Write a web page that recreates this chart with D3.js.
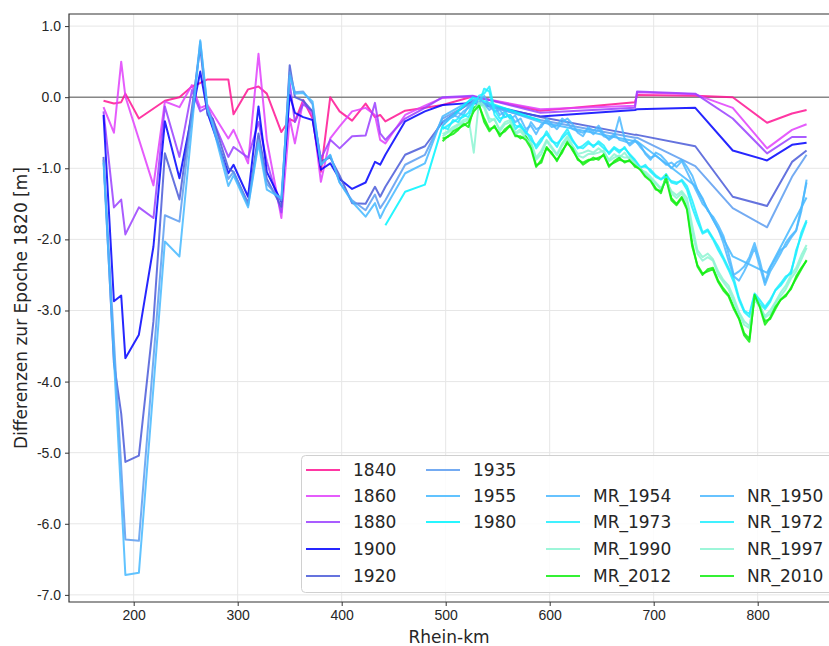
<!DOCTYPE html>
<html>
<head>
<meta charset="utf-8">
<script src="https://cdn.jsdelivr.net/npm/d3@7"></script>
<style>
  body { margin: 0; background: #fff; }
  svg { display: block; font-family: 'DejaVu Sans', sans-serif; }
  .grid line { stroke: #e6e6e6; stroke-width: 1; }
  .axis text { font-size: 14px; fill: #262626; }
  .axis line { stroke: #333; }
  .label { font-size: 17px; fill: #262626; }
  .legend text { font-size: 17px; fill: #262626; }
  .series { fill: none; stroke-width: 2; stroke-opacity: 0.85; stroke-linejoin: round; }
</style>
</head>
<body>
<script>
// survey stations (Rhein-km) of the historic epochs
const STATION_KM = [171, 181, 188, 192, 205, 219, 230, 244, 256, 264, 271, 276, 291, 296, 310, 320, 328, 342, 350, 355,
    363, 372, 380, 389, 398, 410, 423, 432, 437, 442, 461, 480, 497, 526, 591, 682, 684, 740, 776, 809, 833, 847]

const E1840 = [-0.05, -0.09, -0.07, 0.05, -0.30, null, -0.05, 0.00, 0.15, 0.20, 0.25, null, 0.25, -0.24, 0.11, 0.15, 0.05, -0.49, -0.31, -0.34,
    -0.04, -0.30, -1.05, 0.00, -0.20, -0.33, -0.09, -0.28, -0.25, -0.34, -0.19, -0.15, -0.11, 0.01, -0.19, -0.07, 0.03, 0.02, 0.00, -0.36, -0.23, -0.18]
const E1860 = [-0.14, -0.50, 0.50, 0.01, null, -1.24, -0.06, -0.14, 0.17, -0.15, -0.11, null, -0.58, -0.46, -0.93, 0.61, -0.60, -1.70, -0.30, -0.65,
    -0.05, -0.25, -1.19, -0.58, -0.41, -0.20, -0.15, -0.25, -0.60, -0.65, -0.25, -0.12, -0.01, 0.01, -0.17, -0.12, 0.07, 0.04, -0.15, -0.72, -0.46, -0.38]
const E1880 = [-0.20, -1.55, -1.44, -1.93, -1.55, -1.70, -0.13, -0.84, 0.10, -0.20, -0.14, null, -0.84, -0.70, -0.85, -0.35, -0.90, -1.62, 0.20, -0.35,
    -0.10, -0.20, -0.86, -0.60, -0.72, -0.55, -0.54, -0.08, -0.51, -0.60, -0.30, -0.15, 0.00, 0.02, -0.22, -0.15, 0.08, 0.05, -0.30, -0.79, -0.56, -0.56]
const E1900 = [-0.25, -2.87, -2.79, -3.67, -3.34, -2.10, -0.34, -1.14, null, 0.36, -0.22, null, -1.07, -0.95, -1.40, -0.13, -1.05, -1.47, 0.03, -0.22,
    -0.28, -0.32, -1.02, -0.93, -1.15, -1.29, -1.20, -0.91, -0.95, -0.81, -0.34, -0.20, -0.11, -0.08, -0.27, -0.18, -0.17, -0.15, -0.75, -0.89, -0.67, -0.64]
const E1920 = [-0.84, -3.74, -4.45, -5.13, -5.04, -3.15, -0.79, -1.44, null, 0.70, -0.25, -0.30, -1.00, -1.05, -1.49, -0.51, -1.15, -1.54, 0.45, 0.00,
    -0.05, -0.20, -0.90, -0.85, -1.10, -1.49, -1.50, -1.26, -1.40, -1.26, -0.81, -0.69, -0.35, -0.05, -0.28, -0.53, -0.53, -0.69, -1.40, -1.53, -0.91, -0.75]
const E1935 = [-0.88, null, null, -6.22, -6.24, null, -1.66, -1.75, null, 0.78, -0.18, -0.35, -1.15, -1.05, -1.52, -0.60, -1.22, -1.45, 0.35, 0.07,
    0.08, -0.10, -0.95, -0.82, -1.20, -1.45, -1.59, -1.37, -1.56, -1.45, -0.95, -0.81, -0.30, -0.07, -0.32, -0.57, -0.57, -0.97, -1.56, -1.83, -1.12, -0.81]
const E1955 = [-0.92, null, null, -6.72, -6.69, null, -2.03, -2.24, null, 0.80, -0.15, -0.40, -1.25, -1.10, -1.55, -0.65, -1.30, -1.42, 0.30, 0.05,
    0.06, -0.06, -0.95, -0.81, -1.20, -1.47, -1.68, -1.49, -1.70, -1.55, -1.07, -0.93, -0.27, -0.03, -0.35, -0.62, -0.62, -1.25, -2.24, -2.47, null, -1.41]
const E1980 = [null, null, null, null, null, null, null, null, null, null, null, null, null, null, null, null, null, null, null, null,
    null, null, null, null, null, null, null, null, null, -1.80, -1.33, -1.23, -0.40, 0.00, -0.33, null, null, null, null, null, null, null]

// dense profiles (Mittel- und Niedrigwasser)
const DENSE_KM = [497, 502, 507, 512, 517, 522, 527, 532, 537, 542, 547, 552, 557, 562, 567, 572, 577, 582, 587, 592,
    597, 602, 607, 612, 617, 622, 627, 632, 637, 642, 647, 652, 657, 662, 667, 672, 677, 682, 687, 692,
    697, 702, 707, 712, 717, 722, 727, 732, 737, 742, 747, 752, 757, 762, 767, 772, 777, 782, 787, 792,
    797, 802, 807, 812, 817, 822, 827, 832, 837, 842, 847]

const MR_1954 = [-0.35, -0.30, -0.28, -0.22, -0.25, -0.12, -0.08, -0.02, -0.10, -0.18, -0.12, -0.25, -0.20, -0.30, -0.26, -0.40, -0.52, -0.35, -0.45, -0.42,
    -0.30, -0.38, -0.45, -0.35, -0.30, -0.38, -0.50, -0.55, -0.42, -0.48, -0.40, -0.52, -0.60, -0.55, -0.28, -0.58, -0.68, -0.62, -0.67, -0.80,
    -0.88, -0.78, -0.82, -0.90, -1.00, -0.92, -0.88, -0.98, -1.10, -1.30, -1.42, -1.60, -1.68, -1.80, -1.95, -2.20, -2.50, -2.45, -2.38, -2.25,
    -2.05, -2.30, -2.60, -2.40, -2.28, -2.15, -2.10, -1.98, -1.88, -1.60, -1.16]
const MR_1973 = [-0.45, -0.40, -0.35, -0.30, -0.28, -0.22, -0.05, -0.10, 0.12, 0.08, -0.25, -0.35, -0.22, -0.30, -0.45, -0.38, -0.50, -0.55, -0.72, -0.62,
    -0.48, -0.60, -0.70, -0.55, -0.45, -0.60, -0.72, -0.68, -0.62, -0.70, -0.62, -0.68, -0.80, -0.72, -0.78, -0.70, -0.82, -0.90, -1.00, -0.95,
    -1.05, -1.12, -1.16, -1.08, -1.20, -1.22, -1.16, -1.25, -1.45, -1.68, -1.90, -1.86, -1.98, -2.10, -2.25, -2.40, -2.55, -2.82, -3.00, -3.05,
    -2.76, -2.85, -2.95, -2.85, -2.72, -2.65, -2.55, -2.45, -2.20, -1.90, -1.73]
const MR_1990 = [-0.52, -0.48, -0.42, -0.38, -0.32, -0.30, -0.78, -0.05, -0.12, -0.30, -0.32, -0.45, -0.35, -0.32, -0.50, -0.45, -0.55, -0.62, -0.85, -0.75,
    -0.60, -0.70, -0.80, -0.65, -0.55, -0.68, -0.80, -0.78, -0.75, -0.78, -0.72, -0.78, -0.88, -0.80, -0.85, -0.78, -0.88, -0.92, -1.02, -1.05,
    -1.12, -1.20, -1.28, -1.18, -1.32, -1.38, -1.32, -1.42, -1.80, -2.15, -2.25, -2.20, -2.28, -2.45, -2.57, -2.65, -2.82, -3.02, -3.15, -3.22,
    -2.85, -2.95, -3.08, -3.00, -2.88, -2.75, -2.65, -2.50, -2.40, -2.22, -2.08]
const MR_2012 = [-0.62, -0.55, -0.52, -0.46, -0.37, -0.42, -0.15, -0.10, -0.35, -0.48, -0.40, -0.55, -0.45, -0.39, -0.52, -0.58, -0.55, -0.68, -0.96, -0.92,
    -0.70, -0.80, -0.88, -0.78, -0.62, -0.75, -0.86, -0.95, -0.90, -0.85, -0.88, -0.80, -0.98, -0.90, -0.85, -0.92, -0.88, -0.98, -1.00, -1.10,
    -1.16, -1.28, -1.35, -1.10, -1.42, -1.50, -1.40, -1.55, -2.05, -2.38, -2.50, -2.42, -2.40, -2.58, -2.69, -2.78, -2.95, -3.10, -3.32, -3.40,
    -2.80, -2.92, -3.15, -3.12, -2.98, -2.85, -2.80, -2.68, -2.55, -2.42, -2.29]

const NR_1950 = [-0.40, -0.32, -0.25, -0.28, -0.20, -0.15, -0.05, -0.08, 0.02, -0.12, -0.20, -0.18, -0.28, -0.25, -0.35, -0.30, -0.45, -0.40, -0.52, -0.38,
    -0.35, -0.42, -0.40, -0.30, -0.36, -0.45, -0.48, -0.50, -0.45, -0.52, -0.45, -0.55, -0.58, -0.52, -0.60, -0.62, -0.65, -0.60, -0.70, -0.78,
    -0.85, -0.82, -0.88, -0.95, -0.92, -0.98, -0.90, -1.05, -1.20, -1.35, -1.50, -1.58, -1.72, -1.85, -2.05, -2.30, -2.52, -2.58, -2.45, -2.30,
    -2.12, -2.38, -2.64, -2.45, -2.33, -2.20, -2.05, -1.95, -1.87, -1.55, -1.20]
const NR_1972 = [-0.42, -0.45, -0.32, -0.35, -0.25, -0.28, -0.10, 0.02, 0.05, 0.15, -0.18, -0.30, -0.28, -0.25, -0.40, -0.42, -0.48, -0.60, -0.68, -0.58,
    -0.52, -0.62, -0.65, -0.58, -0.50, -0.62, -0.70, -0.72, -0.65, -0.68, -0.65, -0.72, -0.78, -0.70, -0.75, -0.72, -0.80, -0.88, -0.98, -0.98,
    -1.02, -1.10, -1.15, -1.12, -1.18, -1.20, -1.18, -1.30, -1.55, -1.75, -1.92, -1.88, -2.00, -2.15, -2.28, -2.43, -2.60, -2.85, -3.02, -3.09,
    -2.78, -2.90, -2.98, -2.88, -2.71, -2.62, -2.52, -2.48, -2.15, -1.95, -1.75]
const NR_1997 = [-0.55, -0.50, -0.45, -0.40, -0.35, -0.32, -0.20, -0.08, -0.15, -0.35, -0.30, -0.48, -0.38, -0.35, -0.52, -0.48, -0.58, -0.65, -0.88, -0.80,
    -0.62, -0.72, -0.82, -0.68, -0.58, -0.70, -0.82, -0.85, -0.80, -0.80, -0.78, -0.75, -0.90, -0.85, -0.82, -0.85, -0.85, -0.95, -1.00, -1.08,
    -1.15, -1.22, -1.30, -1.15, -1.35, -1.42, -1.35, -1.48, -1.90, -2.20, -2.30, -2.25, -2.30, -2.50, -2.60, -2.70, -2.88, -3.05, -3.20, -3.25,
    -2.82, -2.92, -3.10, -3.05, -2.90, -2.80, -2.70, -2.55, -2.45, -2.28, -2.12]
const NR_2010 = [-0.58, -0.56, -0.48, -0.44, -0.40, -0.35, -0.20, -0.12, -0.30, -0.45, -0.42, -0.52, -0.48, -0.40, -0.55, -0.55, -0.60, -0.72, -0.98, -0.88,
    -0.72, -0.78, -0.90, -0.75, -0.65, -0.72, -0.88, -0.92, -0.88, -0.88, -0.85, -0.82, -0.96, -0.92, -0.88, -0.90, -0.90, -0.96, -1.02, -1.12,
    -1.18, -1.30, -1.32, -1.15, -1.45, -1.52, -1.42, -1.58, -2.10, -2.36, -2.48, -2.45, -2.42, -2.60, -2.72, -2.80, -2.98, -3.12, -3.35, -3.44,
    -2.78, -2.95, -3.20, -3.10, -2.95, -2.85, -2.78, -2.70, -2.52, -2.40, -2.30]

const X_TICKS = [200, 300, 400, 500, 600, 700, 800]
const Y_TICKS = [1, 0, -1, -2, -3, -4, -5, -6, -7]

// legend layout: four columns, blanks where matplotlib had empty handles
const LEGEND_COLUMNS = [
    ['1840', '1860', '1880', '1900', '1920'],
    ['1935', '1955', '1980', null, null],
    [null, 'MR_1954', 'MR_1973', 'MR_1990', 'MR_2012'],
    [null, 'NR_1950', 'NR_1972', 'NR_1997', 'NR_2010']
]

;(function () {

    'use strict'

    const W = 829, H = 646
    const plot = { left: 69, top: 14, bottom: 602, right: 830.5 }

    const colors = {
        '1840': '#ff1493', '1860': '#e040fb', '1880': '#9a40ff', '1900': '#0000ff',
        '1920': '#4a5ad8', '1935': '#5c9cf0', '1955': '#45b8ff', '1980': '#00f5ff',
        'MR_1954': '#4cb8ff', 'MR_1973': '#1eeeff', 'MR_1990': '#8cf5d2', 'MR_2012': '#11ee11',
        'NR_1950': '#4cb8ff', 'NR_1972': '#1eeeff', 'NR_1997': '#8cf5d2', 'NR_2010': '#11ee11'
    }

    const historic = [
        ['1840', E1840], ['1860', E1860], ['1880', E1880], ['1900', E1900],
        ['1920', E1920], ['1935', E1935], ['1955', E1955], ['1980', E1980]
    ].map(([name, vals]) => ({
        name: name,
        points: STATION_KM.map((km, i) => ({ km: km, v: vals[i] })).filter(d => d.v != null)
    }))

    const dense = [
        ['MR_1954', MR_1954], ['MR_1973', MR_1973], ['MR_1990', MR_1990], ['MR_2012', MR_2012],
        ['NR_1950', NR_1950], ['NR_1972', NR_1972], ['NR_1997', NR_1997], ['NR_2010', NR_2010]
    ].map(([name, vals]) => ({
        name: name,
        points: DENSE_KM.map((km, i) => ({ km: km, v: vals[i] }))
    }))

    const xScale = d3.scaleLinear().domain([137.8, 870]).range([plot.left, plot.right])
    const yScale = d3.scaleLinear().domain([-7.1, 1.17]).range([plot.bottom, plot.top])

    const svg = d3.select('body').append('svg')
        .attr('width', W)
        .attr('height', H)

    svg.append('defs').append('clipPath').attr('id', 'clip')
        .append('rect')
        .attr('x', plot.left).attr('y', plot.top)
        .attr('width', plot.right - plot.left).attr('height', plot.bottom - plot.top)

    // grid
    const grid = svg.append('g').attr('class', 'grid')
    grid.selectAll('.gx').data(X_TICKS).enter().append('line')
        .attr('x1', d => xScale(d)).attr('x2', d => xScale(d))
        .attr('y1', plot.top).attr('y2', plot.bottom)
    grid.selectAll('.gy').data(Y_TICKS).enter().append('line')
        .attr('x1', plot.left).attr('x2', plot.right)
        .attr('y1', d => yScale(d)).attr('y2', d => yScale(d))

    // zero line
    svg.append('line')
        .attr('x1', plot.left).attr('x2', plot.right)
        .attr('y1', yScale(0)).attr('y2', yScale(0))
        .attr('stroke', '#555').attr('stroke-width', 1)

    const line = d3.line()
        .x(d => xScale(d.km))
        .y(d => yScale(d.v))

    const dataG = svg.append('g').attr('clip-path', 'url(#clip)')
    dataG.selectAll('.hist')
        .data(historic.concat(dense))
        .enter()
        .append('path')
        .attr('class', 'series')
        .attr('d', d => line(d.points))
        .attr('stroke', d => colors[d.name])

    // spines
    svg.append('path')
        .attr('d', 'M' + (plot.right + 5) + ',' + plot.top + 'H' + plot.left + 'V' + plot.bottom + 'H' + (plot.right + 5))
        .attr('fill', 'none').attr('stroke', '#333').attr('stroke-width', 1.2)

    // axes
    const xAxis = svg.append('g')
        .attr('class', 'axis')
        .attr('transform', 'translate(0,' + plot.bottom + ')')
        .call(d3.axisBottom(xScale).tickValues(X_TICKS).tickSize(4).tickPadding(4).tickFormat(d3.format('d')))
    xAxis.select('.domain').remove()

    const yAxis = svg.append('g')
        .attr('class', 'axis')
        .attr('transform', 'translate(' + plot.left + ',0)')
        .call(d3.axisLeft(yScale).tickValues(Y_TICKS).tickSize(4).tickPadding(4).tickFormat(d => d.toFixed(1)))
    yAxis.select('.domain').remove()
    svg.selectAll('.axis text').attr('font-family', null)

    // axis labels
    svg.append('text')
        .attr('class', 'label')
        .attr('text-anchor', 'middle')
        .attr('transform', 'translate(27,' + ((plot.top + plot.bottom) / 2) + ') rotate(-90)')
        .text('Differenzen zur Epoche 1820 [m]')

    svg.append('text')
        .attr('class', 'label')
        .attr('text-anchor', 'middle')
        .attr('x', 449)
        .attr('y', 643)
        .text('Rhein-km')

    // legend
    const legend = svg.append('g').attr('class', 'legend')
    legend.append('rect')
        .attr('x', 301.5).attr('y', 455.5)
        .attr('width', 600).attr('height', 137)
        .attr('rx', 4)
        .attr('fill', '#fff').attr('fill-opacity', 0.85)
        .attr('stroke', '#d0d0d0')

    const colX = [306, 426, 546, 700]
    const rowY = [470, 496, 522, 549, 576]
    LEGEND_COLUMNS.forEach((col, c) => {
        col.forEach((name, r) => {
            if (!name) return
            legend.append('line')
                .attr('x1', colX[c]).attr('x2', colX[c] + 34)
                .attr('y1', rowY[r]).attr('y2', rowY[r])
                .attr('stroke', colors[name]).attr('stroke-width', 2).attr('stroke-opacity', 0.85)
            legend.append('text')
                .attr('x', colX[c] + 47)
                .attr('y', rowY[r] + 6)
                .text(name)
        })
    })
})()
</script>
</body>
</html>
